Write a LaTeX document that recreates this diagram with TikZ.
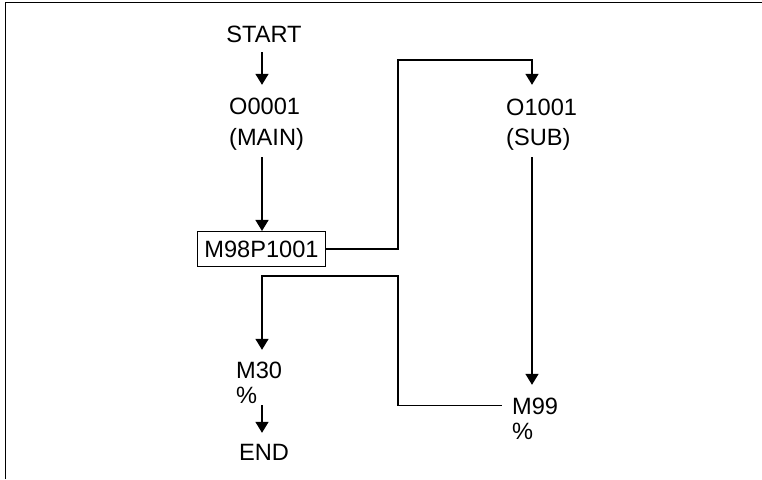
\documentclass[tikz,border=0pt]{standalone}
\usepackage{fontspec}
\setmainfont{Liberation Sans}
\usetikzlibrary{arrows.meta}
\begin{document}
\begin{tikzpicture}[x=1pt,y=-1pt,
  txt/.style={inner sep=0pt, text height=16.8pt, text depth=0pt, font=\fontsize{23.6}{28}\selectfont},
  prog/.style={draw, line width=1.5pt, inner sep=0pt, minimum width=128pt, minimum height=35pt, font=\fontsize{23.6}{28}\selectfont},
  conn/.style={line width=1.5pt},
  arr/.style={conn, -{Triangle[width=13pt,length=11pt]}}]
\useasboundingbox (0,0) rectangle (762,479);
% frame
\draw[line width=1.8pt] (5.5,479) -- (5.5,2.5) -- (762,2.5);
% column guides
\coordinate (c1) at (262,0);
\coordinate (c2) at (532,0);
\coordinate (j1) at (398,60);
\coordinate (j2) at (398,276);
% nodes
\node[txt, anchor=base] (start) at (264,42) {START};
\node[txt, anchor=base west] (main1) at (229,114.5) {O0001};
\node[txt, anchor=base west] (main2) at (229,145.5) {(MAIN)};
\node[prog] (box) at (261.5,249.2) {M98P1001};
\node[txt, anchor=base west] (sub1) at (506,115) {O1001};
\node[txt, anchor=base west] (sub2) at (506,145) {(SUB)};
\node[txt, anchor=base west] (m99a) at (512,414) {M99};
\node[txt, anchor=base west] (m99b) at (512,439) {\%};
\node[txt, anchor=base west] (m30a) at (236,378) {M30};
\node[txt, anchor=base west] (m30b) at (236,403) {\%};
\node[txt, anchor=base] (end) at (264,460) {END};
% connectors
\draw[arr, shorten <=10pt, shorten >=12.7pt] (start.south -| c1) -- (main1.north -| c1);
\draw[arr, shorten <=11.5pt] (main2.south -| c1) -- (box.north -| c1);
\draw[arr, shorten >=13.2pt] (box.east) -| (j1) -| (sub1.north -| c2);
\draw[arr, shorten <=12pt, shorten >=12.2pt] (sub2.south -| c2) -- (m99a.north -| c2);
\draw[arr, shorten <=10.5pt, shorten >=11.2pt] (m99a.west) -| (j2) -| (m30a.north -| c1);
\draw[arr, shorten <=2pt, shorten >=10.2pt] (m30b.south -| c1) -- (end.north -| c1);
\end{tikzpicture}
\end{document}
